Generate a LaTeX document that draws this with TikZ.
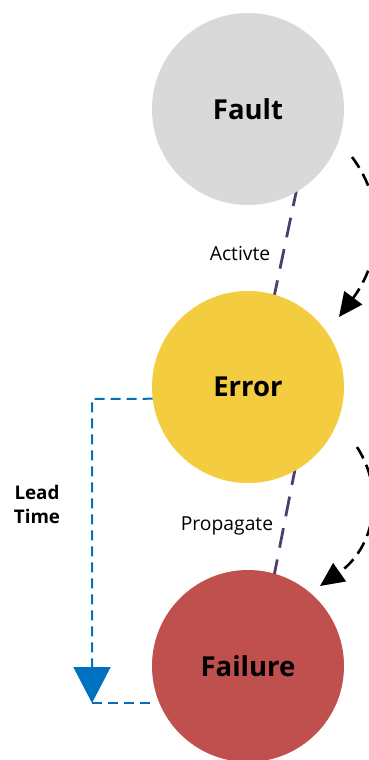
\documentclass[tikz,border=0pt]{standalone}
\usepackage{fontspec}
\setmainfont{Open Sans}
\usetikzlibrary{arrows.meta,backgrounds,calc}
\definecolor{faultgray}{HTML}{D9D9D9}
\definecolor{erryellow}{HTML}{F4CC3F}
\definecolor{failred}{HTML}{C0504D}
\definecolor{linkpurple}{HTML}{4F3D6E}
\definecolor{leadblue}{HTML}{0070C0}
\tikzset{
  state/.style={circle, minimum size=192pt, inner sep=0pt, font=\fontsize{27.5}{32}\selectfont\bfseries},
  link/.style={draw=linkpurple, line width=2.8pt, dash pattern=on 20pt off 12pt},
  flow/.style={draw=black, line width=2.6pt, dash pattern=on 13pt off 7pt, -{Triangle[length=24pt,width=22pt]}},
  lead/.style={draw=leadblue, line width=2pt, dash pattern=on 10pt off 6pt},
  lbl/.style={font=\fontsize{19.3}{23}\selectfont, inner sep=0pt},
}
\begin{document}
\begin{tikzpicture}[x=1pt,y=-1pt]
\useasboundingbox (0,0) rectangle (368,760);
\node[state, fill=faultgray] (fault) at (248,109) {Fault};
\node[state, fill=erryellow] (error) at (248,387) {Error};
\node[state, fill=failred] (failure) at (248,666) {Failure};
\node[lbl] (act) at (240,254) {Activte};
\node[lbl] (prop) at (227,526) {Propagate};
\node[font=\fontsize{18.8}{24}\selectfont\bfseries, align=center, inner sep=0pt] (leadt) at (37,504) {Lead\\Time};
\coordinate (c1s) at (352,157);
\coordinate (c1e) at (339,317);
\coordinate (c2s) at (357,447);
\coordinate (c2e) at (320,586);
\coordinate (ltop) at (92,399);
\coordinate (lbot) at (92,703);
\coordinate (lend) at (152,703);
\begin{scope}[on background layer]
\draw[link] ($(fault.-60)!-6pt!(error.74)$) -- ($(error.74)!-4pt!(fault.-60)$);
\draw[link] ($(error.-61)!-6pt!(failure.74)$) -- ($(failure.74)!-4pt!(error.-61)$);
\end{scope}
\draw[flow] (c1s) .. controls (388,205) and (380,262) .. (c1e);
\draw[flow] (c2s) .. controls (386,492) and (374,548) .. (c2e);
\draw[lead, -{Triangle[length=36pt,width=37pt]}] (error.187) -- (ltop) -- (lbot);
\draw[lead] (lbot) -- (lend);
\end{tikzpicture}
\end{document}
